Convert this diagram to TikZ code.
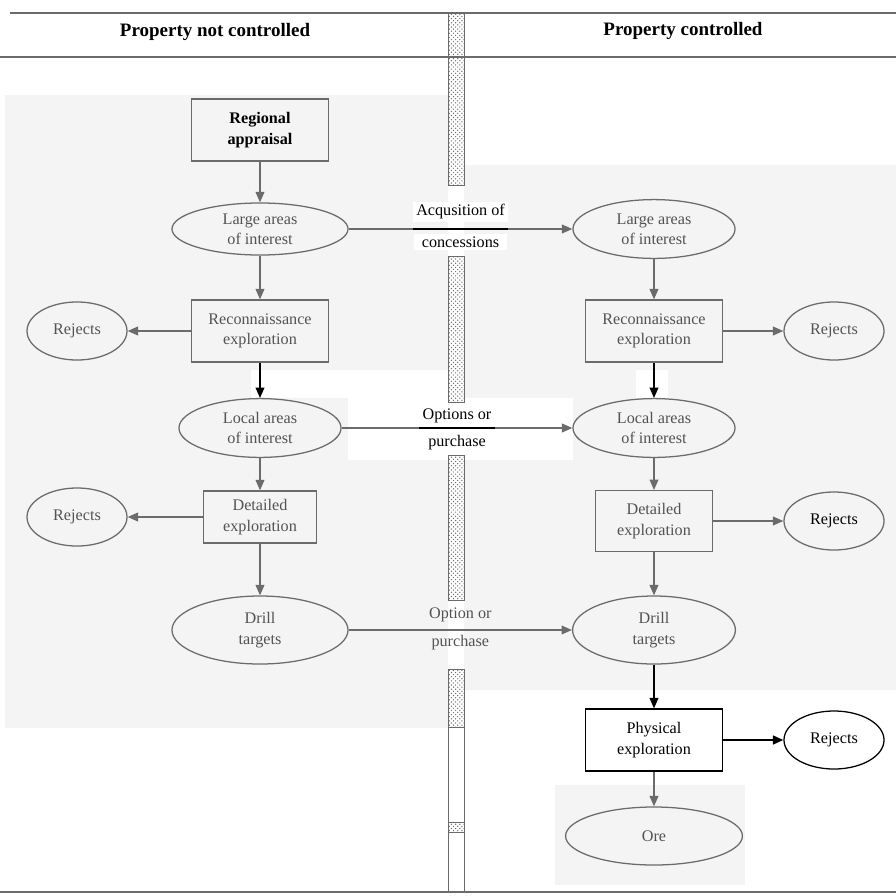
\documentclass[tikz,border=0pt]{standalone}
\usepackage{fontspec}
\setmainfont{Liberation Serif}
\usetikzlibrary{shapes.geometric,arrows.meta,patterns,positioning}
\definecolor{scan}{gray}{0.42}
\definecolor{scantxt}{gray}{0.32}
\definecolor{paper}{gray}{0.955}
\newcommand{\txt}{\fontsize{11.5}{14.5}\selectfont}
\tikzset{
  >={Triangle[length=2.6mm,width=2.2mm]},
}

\begin{document}
\begin{tikzpicture}[
  x=0.025cm,y=-0.025cm,
  box/.style={draw=scan, text=scantxt, line width=0.9pt, align=center, font=\txt,
    minimum width=3.42cm, minimum height=1.55cm, inner sep=2pt},
  oval/.style={ellipse, draw=scan, text=scantxt, line width=0.9pt, align=center, font=\txt,
    minimum width=4.05cm, minimum height=1.47cm, inner sep=0pt},
  rej/.style={oval, minimum width=2.5cm, minimum height=1.45cm},
  flow/.style={->, draw=scan, line width=0.9pt},
  lab/.style={font=\txt, text=black, inner sep=2pt},
  bar/.style={draw=scan, pattern=crosshatch dots, pattern color=scan},
]
\useasboundingbox (0,0) rectangle (896,896);

% scanned page
\fill[white] (0,0) rectangle (896,896);
\fill[paper] (5,95) rectangle (448,728);
\fill[paper] (464,165) rectangle (896,690);
\fill[white] (251,370) rectangle (448,398);
\fill[white] (636,370) rectangle (668,398);
\fill[white] (348,398) rectangle (573,460);
\fill[paper] (555,785) rectangle (745,885);

% headings
\draw[scan, line width=2pt] (10,13) -- (896,13);
\draw[scan, line width=2pt] (0,57) -- (896,57);
\draw[scan, line width=1.5pt] (0,892) -- (896,892);
\node[font=\fontsize{13.5}{16}\selectfont\bfseries] (free) at (215,32) {Property not controlled};
\node[font=\fontsize{13.5}{16}\selectfont\bfseries] (held) at (683,31) {Property controlled};

% boundary
\foreach \a/\b in {13/185, 256/402, 455/600, 669/727}
  \draw[bar] (448,\a) rectangle (464,\b);
\draw[scan] (448,727) rectangle (464,892);
\draw[bar] (448,822) rectangle (464,832);

% not controlled
\node[box, text=black, font=\txt\bfseries] (reg) at (260,130) {Regional\\appraisal};
\node[oval, minimum width=4.4cm, minimum height=1.3cm] (areaL) at (260,229) {Large areas\\of interest};
\node[box] (reconL) at (260,331) {Reconnaissance\\exploration};
\node[rej] (rejA) at (77,331) {Rejects};
\node[oval] (localL) at (260,428) {Local areas\\of interest};
\node[box, minimum width=2.83cm, minimum height=1.3cm] (detailL) at (260,517) {Detailed\\exploration};
\node[rej] (rejB) at (77,517) {Rejects};
\node[oval, minimum width=4.4cm, minimum height=1.7cm] (drillL) at (260,630) {Drill\\targets};

% controlled
\node[oval] (areaR) at (654,229) {Large areas\\of interest};
\node[box] (reconR) at (654,331) {Reconnaissance\\exploration};
\node[rej] (rejC) at (834,331) {Rejects};
\node[oval] (localR) at (654,428) {Local areas\\of interest};
\node[box, minimum width=2.93cm, minimum height=1.52cm] (detailR) at (654,521) {Detailed\\exploration};
\node[rej, text=black] (rejD) at (834,521) {Rejects};
\node[oval, minimum width=4.07cm, minimum height=1.7cm] (drillR) at (654,630) {Drill\\targets};
\node[box, draw=black, text=black] (phys) at (654,740) {Physical\\exploration};
\node[rej, draw=black, text=black] (rejE) at (834,740) {Rejects};
\node[oval, minimum width=4.42cm, minimum height=1.45cm] (ore) at (654,836) {Ore};

\draw[flow] (reg) -- (areaL);
\draw[flow] (areaL) -- (reconL);
\draw[flow] (reconL) -- (rejA);
\draw[flow, draw=black] (reconL) -- (localL);
\draw[flow] (localL) -- (detailL);
\draw[flow] (detailL) -- (rejB);
\draw[flow] (detailL) -- (drillL);

\draw[flow] (areaR) -- (reconR);
\draw[flow] (reconR) -- (rejC);
\draw[flow, draw=black] (reconR) -- (localR);
\draw[flow] (localR) -- (detailR);
\draw[flow] (detailR) -- (rejD);
\draw[flow] (detailR) -- (drillR);
\draw[flow, draw=black] (drillR) -- (phys);
\draw[flow, draw=black, line width=1.4pt] (phys) -- (rejE);
\draw[flow] (phys) -- (ore);

% across the boundary
\draw[flow] (areaL) -- (areaR)
  node[lab, fill=white, minimum width=2.3cm, above=4.5pt, midway] (acq) {Acqusition of}
  node[lab, fill=white, minimum width=2.3cm, below=3pt, midway] (conc) {concessions};
\draw[black, line width=1.2pt] (acq.south west |- areaL) -- (acq.south east |- areaL);
\draw[flow] (localL) -- (localR)
  node[lab, fill=white, above=1.5pt, midway] (opt) {Options or}
  node[lab, fill=white, below=3pt, midway] (buy) {purchase};
\draw[black, line width=1.2pt] (opt.south west |- localL) -- (opt.south east |- localL);
\draw[flow] (drillL) -- (drillR)
  node[lab, text=scantxt, above=3.5pt, midway] (opt2) {Option or}
  node[lab, text=scantxt, below=1.5pt, midway] (buy2) {purchase};

\end{tikzpicture}
\end{document}
